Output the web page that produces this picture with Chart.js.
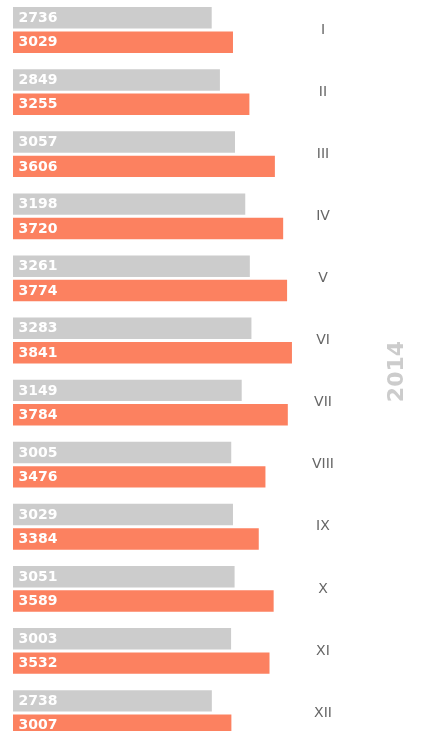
<!DOCTYPE html>
<html>
<head>
<meta charset="utf-8">
<script src="https://cdn.jsdelivr.net/npm/chart.js@4/dist/chart.umd.min.js"></script>
<style>
html, body { margin: 0; padding: 0; overflow: hidden; background: #ffffff; width: 421px; height: 731px; }
#wrap { position: absolute; left: 0; top: -5px; width: 421px; height: 751px; }
</style>
</head>
<body>
<div id="wrap"><canvas id="c" width="421" height="751"></canvas></div>
<script>
const months = ['I', 'II', 'III', 'IV', 'V', 'VI', 'VII', 'VIII', 'IX', 'X', 'XI', 'XII'];
const series2013 = [2736, 2849, 3057, 3198, 3261, 3283, 3149, 3005, 3029, 3051, 3003, 2738];
const series2014 = [3029, 3255, 3606, 3720, 3774, 3841, 3784, 3476, 3384, 3589, 3532, 3007];
const yearLabel = '2014';

const GRAY = '#cccccc';
const ORANGE = '#fc8160';

const valueLabels = {
  id: 'valueLabels',
  afterDatasetsDraw(chart) {
    const ctx = chart.ctx;
    ctx.save();
    ctx.font = 'bold 14px "DejaVu Sans"';
    ctx.fillStyle = '#ffffff';
    ctx.textAlign = 'left';
    ctx.textBaseline = 'middle';
    chart.data.datasets.forEach((ds, di) => {
      const meta = chart.getDatasetMeta(di);
      meta.data.forEach((bar, i) => {
        const left = Math.min(bar.base, bar.x);
        ctx.fillText(String(ds.data[i]), left + 5.5, bar.y + 0.5);
      });
    });
    ctx.restore();
  }
};

const yearTitle = {
  id: 'yearTitle',
  afterDraw(chart) {
    const ctx = chart.ctx;
    const area = chart.chartArea;
    ctx.save();
    ctx.translate(chart.width - 24, (area.top + area.bottom) / 2);
    ctx.rotate(-Math.PI / 2);
    ctx.font = 'bold 22px "DejaVu Sans"';
    ctx.fillStyle = '#cccccc';
    ctx.textAlign = 'center';
    ctx.textBaseline = 'middle';
    ctx.fillText(yearLabel, 0, 0);
    ctx.restore();
  }
};

new Chart(document.getElementById('c'), {
  type: 'bar',
  data: {
    labels: months,
    datasets: [
      { label: '2013', data: series2013, backgroundColor: GRAY, borderWidth: 0 },
      { label: '2014', data: series2014, backgroundColor: ORANGE, borderWidth: 0 }
    ]
  },
  options: {
    indexAxis: 'y',
    responsive: false,
    devicePixelRatio: 1,
    animation: false,
    categoryPercentage: 0.785,
    barPercentage: 0.88,
    layout: { autoPadding: false, padding: { left: 13, top: 3.95, bottom: 1.9, right: 78.5 } },
    plugins: { legend: { display: false }, tooltip: { enabled: false } },
    scales: {
      x: { display: false, min: 0, max: 4000 },
      y: {
        position: 'right',
        grid: { display: false, drawTicks: false },
        border: { display: false },
        afterFit(scale) {
          scale.width = 39;
          scale.paddingTop = 0;
          scale.paddingBottom = 0;
        },
        ticks: {
          crossAlign: 'center',
          padding: 8.5,
          color: '#666666',
          font: { family: '"DejaVu Sans"', size: 14 }
        }
      }
    }
  },
  plugins: [valueLabels, yearTitle]
});
</script>
</body>
</html>
